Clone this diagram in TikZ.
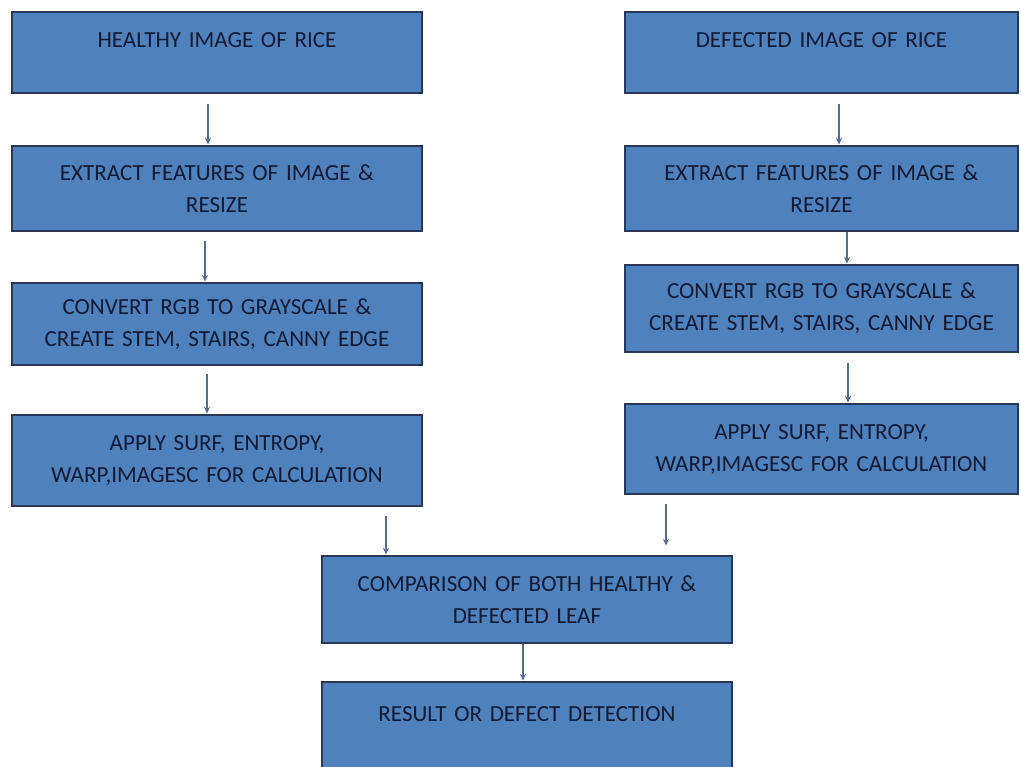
\documentclass[tikz,border=0pt]{standalone}
\usepackage{fontspec}
\setmainfont{Carlito}
\usetikzlibrary{arrows.meta,calc}

\definecolor{boxfill}{RGB}{79,129,189}
\definecolor{boxline}{RGB}{40,56,86}
\definecolor{boxtext}{RGB}{18,26,52}
\definecolor{arrline}{RGB}{82,108,150}

\begin{document}
\begin{tikzpicture}[
  x=0.75pt, y=-0.75pt,
  font=\fontsize{17.3}{24}\selectfont,
  step box/.style = {fill=boxfill, draw=boxline, line width=2.2pt, text=boxtext,
                     align=center, inner sep=2pt},
  lbox/.style = {step box, minimum width=307.5pt, text width=300pt},
  rbox/.style = {step box, minimum width=294.75pt, text width=288pt},
  arr/.style  = {draw=arrline, line width=0.9pt, -{Stealth[length=5pt,width=4.5pt]}},
]

\def\cl{217}     % column x: healthy
\def\cr{821.5}   % column x: defected
\def\cm{527}     % column x: comparison

\path[use as bounding box] (0,0) rectangle (1021,767);
\clip (0,0) rectangle (1021,767);

% ---- healthy column --------------------------------------------------------
\node[lbox, minimum height=60.75pt] (hImg)  at (\cl, 52.5)  {HEALTHY IMAGE OF RICE\\[-13pt]\strut};
\node[lbox, minimum height=63.75pt] (hFeat) at (\cl, 188.5) {EXTRACT FEATURES OF IMAGE \&\\RESIZE};
\node[lbox, minimum height=61.5pt]  (hGray) at (\cl, 324)   {CONVERT RGB TO GRAYSCALE \&\\CREATE STEM, STAIRS, CANNY EDGE};
\node[lbox, minimum height=68.25pt] (hCalc) at (\cl, 460.5) {APPLY SURF, ENTROPY,\\WARP,IMAGESC FOR CALCULATION};

% ---- defected column -------------------------------------------------------
\node[rbox, minimum height=60.75pt] (dImg)  at (\cr, 52.5)  {DEFECTED IMAGE OF RICE\\[-13pt]\strut};
\node[rbox, minimum height=63.75pt] (dFeat) at (\cr, 188.5) {EXTRACT FEATURES OF IMAGE \&\\RESIZE};
\node[rbox, minimum height=65.25pt] (dGray) at (\cr, 308.5) {CONVERT RGB TO GRAYSCALE \&\\CREATE STEM, STAIRS, CANNY EDGE};
\node[rbox, minimum height=67.5pt]  (dCalc) at (\cr, 449)   {APPLY SURF, ENTROPY,\\WARP,IMAGESC FOR CALCULATION};

% ---- comparison and result -------------------------------------------------
\node[lbox, minimum height=65.25pt] (cmp) at (\cm, 599.5) {COMPARISON OF BOTH HEALTHY \&\\DEFECTED LEAF};
\node[lbox, minimum height=66pt]    (res) at (\cm, 726)   {RESULT OR DEFECT DETECTION\\[-13pt]\strut};

% ---- arrows ----------------------------------------------------------------
\draw[arr] ($(hImg.south)+(-9,10)$)   -- ($(hFeat.north)+(-9,0)$);
\draw[arr] ($(hFeat.south)+(-12,9)$)  -- ($(hGray.north)+(-12,0)$);
\draw[arr] ($(hGray.south)+(-10,8)$)  -- ($(hCalc.north)+(-10,0)$);

\draw[arr] ($(dImg.south)+(17.5,10)$) -- ($(dFeat.north)+(17.5,0)$);
\draw[arr] ($(dFeat.south)+(25.5,0)$) -- ($(dGray.north)+(25.5,0)$);
\draw[arr] ($(dGray.south)+(26.5,10)$) -- ($(dCalc.north)+(26.5,0)$);

\draw[arr] ($(hCalc.south)+(169,9)$)     -- ($(cmp.north)+(-141,0)$);
\draw[arr] ($(dCalc.south)+(-155.5,9)$)  -- ($(cmp.north)+(139,-9)$);
\draw[arr] ($(cmp.south)+(-4,0)$)        -- ($(res.north)+(-4,0)$);

\end{tikzpicture}
\end{document}
